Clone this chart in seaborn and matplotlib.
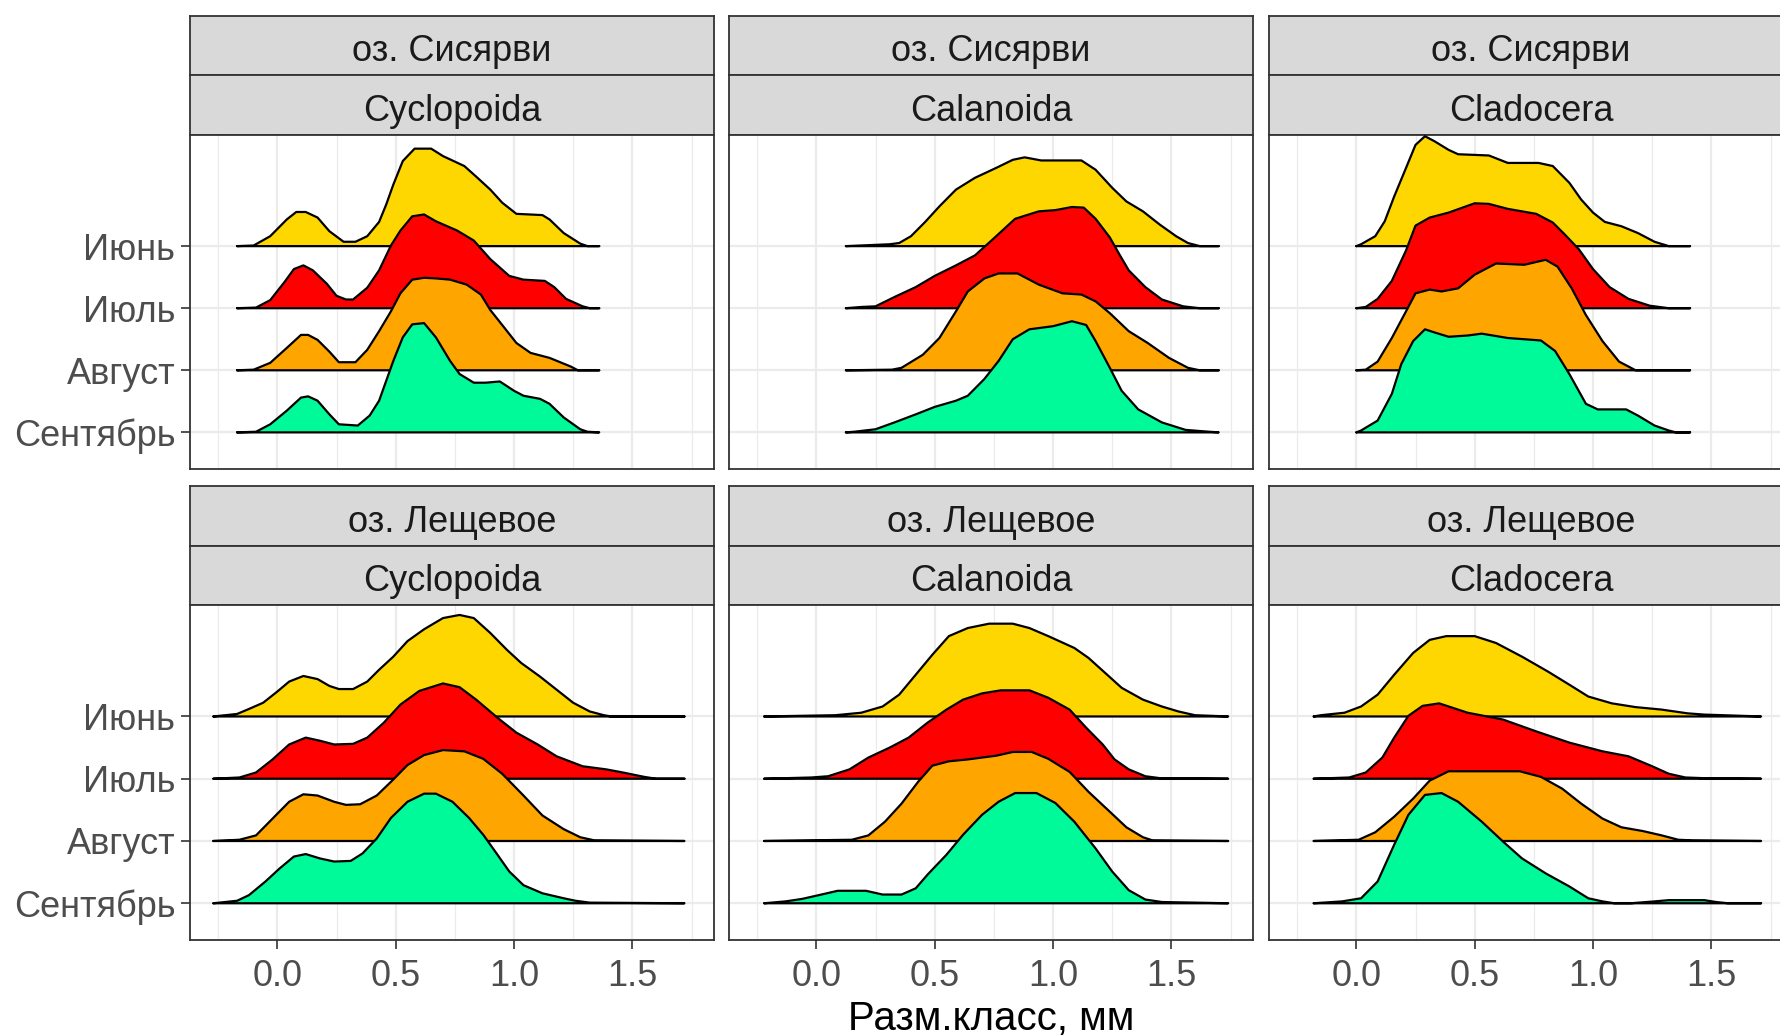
import matplotlib
matplotlib.use("Agg")
import matplotlib.pyplot as plt
import seaborn as sns
import pandas as pd

# ---------------- data ----------------
months = ["Июнь", "Июль", "Август", "Сентябрь"]
lakes = ["оз. Сисярви", "оз. Лещевое"]
groups = ["Cyclopoida", "Calanoida", "Cladocera"]
x_ticks = [0.0, 0.5, 1.0, 1.5]
x_tick_labels = ["0.0", "0.5", "1.0", "1.5"]
x_label = "Разм.класс, мм"

# x range of the density estimate per panel (lake, group)
sis_cyc_range = [-0.17, 1.36]
sis_cal_range = [0.125, 1.70]
sis_cla_range = [0.0, 1.41]
les_cyc_range = [-0.27, 1.72]
les_cal_range = [-0.22, 1.74]
les_cla_range = [-0.18, 1.71]

# оз. Сисярви, Cyclopoida
sis_cyc_jun_x = [-0.10, -0.03, 0.04, 0.08, 0.12, 0.17, 0.22, 0.28, 0.33, 0.38, 0.43, 0.46, 0.49, 0.53, 0.58, 0.65, 0.70, 0.79, 0.84, 0.90, 0.95, 1.01, 1.12, 1.15, 1.21, 1.28, 1.31]
sis_cyc_jun_h = [0.01, 0.16, 0.43, 0.55, 0.55, 0.46, 0.24, 0.07, 0.07, 0.16, 0.39, 0.67, 0.99, 1.37, 1.57, 1.57, 1.45, 1.29, 1.12, 0.91, 0.70, 0.52, 0.50, 0.43, 0.21, 0.04, 0.0]
sis_cyc_jul_x = [-0.09, -0.03, 0.03, 0.07, 0.11, 0.15, 0.21, 0.25, 0.29, 0.32, 0.38, 0.43, 0.48, 0.52, 0.57, 0.62, 0.67, 0.76, 0.83, 0.90, 0.98, 1.04, 1.13, 1.17, 1.22, 1.29, 1.32]
sis_cyc_jul_h = [0.01, 0.13, 0.42, 0.63, 0.69, 0.61, 0.39, 0.20, 0.14, 0.14, 0.33, 0.61, 1.01, 1.25, 1.48, 1.51, 1.40, 1.25, 1.09, 0.79, 0.52, 0.46, 0.44, 0.34, 0.15, 0.03, 0.0]
sis_cyc_aug_x = [-0.10, -0.03, 0.04, 0.10, 0.13, 0.17, 0.22, 0.26, 0.33, 0.38, 0.43, 0.48, 0.52, 0.57, 0.62, 0.67, 0.73, 0.80, 0.86, 0.90, 0.95, 1.01, 1.07, 1.15, 1.24, 1.27]
sis_cyc_aug_h = [0.01, 0.12, 0.36, 0.57, 0.57, 0.49, 0.30, 0.13, 0.13, 0.33, 0.63, 0.95, 1.24, 1.46, 1.49, 1.48, 1.46, 1.38, 1.22, 0.97, 0.73, 0.44, 0.28, 0.20, 0.06, 0.0]
sis_cyc_sep_x = [-0.09, -0.03, 0.04, 0.10, 0.13, 0.17, 0.22, 0.26, 0.34, 0.39, 0.43, 0.46, 0.49, 0.53, 0.57, 0.62, 0.67, 0.73, 0.77, 0.83, 0.88, 0.94, 1.00, 1.04, 1.11, 1.15, 1.21, 1.28, 1.31]
sis_cyc_sep_h = [0.01, 0.13, 0.35, 0.56, 0.58, 0.51, 0.29, 0.13, 0.11, 0.27, 0.51, 0.83, 1.15, 1.53, 1.74, 1.76, 1.53, 1.15, 0.94, 0.80, 0.80, 0.82, 0.67, 0.59, 0.54, 0.46, 0.24, 0.05, 0.01]

# оз. Сисярви, Calanoida
sis_cal_jun_x = [0.31, 0.35, 0.40, 0.46, 0.52, 0.59, 0.67, 0.76, 0.83, 0.88, 0.95, 1.12, 1.18, 1.25, 1.31, 1.38, 1.45, 1.52, 1.57, 1.62]
sis_cal_jun_h = [0.03, 0.05, 0.16, 0.39, 0.64, 0.91, 1.10, 1.26, 1.39, 1.43, 1.38, 1.38, 1.23, 0.94, 0.72, 0.56, 0.35, 0.16, 0.05, 0.0]
sis_cal_jul_x = [0.19, 0.25, 0.33, 0.42, 0.50, 0.59, 0.67, 0.74, 0.84, 0.94, 1.01, 1.08, 1.13, 1.18, 1.24, 1.28, 1.32, 1.39, 1.46, 1.55, 1.62]
sis_cal_jul_h = [0.02, 0.03, 0.18, 0.34, 0.52, 0.69, 0.85, 1.09, 1.44, 1.56, 1.58, 1.63, 1.62, 1.44, 1.14, 0.87, 0.61, 0.34, 0.14, 0.03, 0.0]
sis_cal_aug_x = [0.32, 0.36, 0.45, 0.52, 0.59, 0.64, 0.71, 0.77, 0.85, 0.94, 1.04, 1.12, 1.18, 1.24, 1.32, 1.40, 1.49, 1.57, 1.62]
sis_cal_aug_h = [0.01, 0.04, 0.25, 0.52, 0.95, 1.27, 1.48, 1.56, 1.56, 1.38, 1.24, 1.22, 1.11, 0.92, 0.63, 0.44, 0.20, 0.04, 0.0]
sis_cal_sep_x = [0.16, 0.25, 0.33, 0.42, 0.50, 0.59, 0.64, 0.71, 0.77, 0.83, 0.90, 1.00, 1.08, 1.14, 1.18, 1.24, 1.29, 1.36, 1.46, 1.56, 1.66]
sis_cal_sep_h = [0.01, 0.05, 0.16, 0.29, 0.41, 0.51, 0.59, 0.86, 1.15, 1.50, 1.66, 1.71, 1.79, 1.73, 1.47, 1.04, 0.67, 0.37, 0.16, 0.04, 0.01]

# оз. Сисярви, Cladocera
sis_cla_jun_x = [0.02, 0.08, 0.12, 0.16, 0.21, 0.25, 0.29, 0.33, 0.39, 0.43, 0.56, 0.64, 0.77, 0.83, 0.90, 0.95, 1.00, 1.05, 1.12, 1.19, 1.26, 1.32]
sis_cla_jun_h = [0.03, 0.16, 0.40, 0.80, 1.26, 1.63, 1.77, 1.69, 1.55, 1.48, 1.46, 1.34, 1.34, 1.29, 1.02, 0.75, 0.54, 0.39, 0.32, 0.21, 0.07, 0.0]
sis_cla_jul_x = [0.04, 0.09, 0.15, 0.21, 0.25, 0.31, 0.39, 0.50, 0.56, 0.64, 0.76, 0.83, 0.88, 0.94, 1.00, 1.07, 1.15, 1.24, 1.32]
sis_cla_jul_h = [0.02, 0.15, 0.44, 0.93, 1.33, 1.46, 1.54, 1.69, 1.68, 1.60, 1.52, 1.38, 1.19, 0.95, 0.63, 0.34, 0.15, 0.04, 0.0]
sis_cla_aug_x = [0.04, 0.09, 0.15, 0.21, 0.25, 0.31, 0.36, 0.43, 0.50, 0.59, 0.71, 0.80, 0.85, 0.91, 0.97, 1.04, 1.11, 1.18]
sis_cla_aug_h = [0.01, 0.14, 0.52, 0.95, 1.24, 1.30, 1.27, 1.32, 1.54, 1.72, 1.70, 1.78, 1.67, 1.32, 0.89, 0.47, 0.14, 0.0]
sis_cla_sep_x = [0.02, 0.09, 0.15, 0.19, 0.24, 0.29, 0.33, 0.39, 0.47, 0.53, 0.64, 0.78, 0.84, 0.90, 0.97, 1.02, 1.14, 1.19, 1.26, 1.32, 1.35]
sis_cla_sep_h = [0.03, 0.19, 0.62, 1.10, 1.47, 1.66, 1.61, 1.54, 1.56, 1.59, 1.52, 1.48, 1.31, 0.94, 0.46, 0.37, 0.37, 0.27, 0.11, 0.03, 0.0]

# оз. Лещевое, Cyclopoida
les_cyc_jun_x = [-0.17, -0.12, -0.06, 0.00, 0.05, 0.11, 0.17, 0.22, 0.26, 0.32, 0.38, 0.43, 0.49, 0.55, 0.62, 0.70, 0.77, 0.83, 0.90, 0.97, 1.03, 1.11, 1.18, 1.25, 1.32, 1.38, 1.41]
les_cyc_jun_h = [0.04, 0.12, 0.22, 0.40, 0.56, 0.65, 0.60, 0.49, 0.44, 0.44, 0.56, 0.75, 0.96, 1.21, 1.40, 1.58, 1.63, 1.58, 1.34, 1.07, 0.86, 0.64, 0.43, 0.22, 0.08, 0.02, 0.0]
les_cyc_jul_x = [-0.16, -0.09, -0.02, 0.05, 0.12, 0.18, 0.24, 0.32, 0.38, 0.45, 0.52, 0.60, 0.70, 0.77, 0.84, 0.93, 1.01, 1.10, 1.18, 1.29, 1.39, 1.46, 1.55, 1.60]
les_cyc_jul_h = [0.02, 0.10, 0.31, 0.55, 0.66, 0.61, 0.55, 0.56, 0.66, 0.90, 1.19, 1.41, 1.53, 1.47, 1.27, 0.98, 0.74, 0.55, 0.36, 0.20, 0.15, 0.10, 0.03, 0.0]
les_cyc_aug_x = [-0.16, -0.09, -0.02, 0.05, 0.11, 0.17, 0.24, 0.29, 0.35, 0.42, 0.48, 0.55, 0.62, 0.70, 0.79, 0.87, 0.95, 1.04, 1.12, 1.21, 1.28, 1.34]
les_cyc_aug_h = [0.02, 0.09, 0.36, 0.63, 0.75, 0.73, 0.63, 0.58, 0.59, 0.73, 0.95, 1.22, 1.38, 1.46, 1.44, 1.32, 1.08, 0.73, 0.41, 0.19, 0.06, 0.01]
les_cyc_sep_x = [-0.17, -0.12, -0.05, 0.01, 0.07, 0.12, 0.18, 0.24, 0.31, 0.36, 0.42, 0.48, 0.55, 0.62, 0.67, 0.74, 0.81, 0.87, 0.93, 0.98, 1.04, 1.12, 1.21, 1.26, 1.32]
les_cyc_sep_h = [0.04, 0.13, 0.35, 0.56, 0.75, 0.79, 0.72, 0.67, 0.68, 0.80, 1.04, 1.37, 1.63, 1.76, 1.76, 1.63, 1.37, 1.10, 0.78, 0.51, 0.29, 0.16, 0.08, 0.04, 0.01]

# оз. Лещевое, Calanoida
les_cal_jun_x = [0.08, 0.19, 0.28, 0.35, 0.42, 0.49, 0.56, 0.64, 0.73, 0.83, 0.90, 0.98, 1.09, 1.15, 1.22, 1.29, 1.38, 1.46, 1.53, 1.60]
les_cal_jun_h = [0.02, 0.06, 0.16, 0.35, 0.67, 0.99, 1.29, 1.42, 1.49, 1.49, 1.42, 1.29, 1.10, 0.94, 0.70, 0.46, 0.27, 0.16, 0.08, 0.02]
les_cal_jul_x = [-0.02, 0.05, 0.14, 0.22, 0.31, 0.39, 0.47, 0.55, 0.62, 0.70, 0.78, 0.90, 0.98, 1.07, 1.14, 1.21, 1.26, 1.32, 1.39, 1.45]
les_cal_jul_h = [0.02, 0.04, 0.15, 0.34, 0.50, 0.66, 0.90, 1.11, 1.27, 1.37, 1.42, 1.42, 1.30, 1.11, 0.82, 0.55, 0.31, 0.15, 0.04, 0.01]
les_cal_aug_x = [0.15, 0.22, 0.29, 0.36, 0.43, 0.49, 0.56, 0.64, 0.76, 0.83, 0.91, 0.98, 1.07, 1.15, 1.24, 1.31, 1.38, 1.42]
les_cal_aug_h = [0.02, 0.09, 0.31, 0.60, 0.95, 1.21, 1.28, 1.31, 1.37, 1.43, 1.43, 1.32, 1.11, 0.79, 0.47, 0.22, 0.06, 0.01]
les_cal_sep_x = [-0.13, -0.06, 0.01, 0.09, 0.21, 0.28, 0.36, 0.42, 0.47, 0.55, 0.62, 0.70, 0.77, 0.84, 0.93, 1.01, 1.09, 1.18, 1.25, 1.32, 1.39, 1.46]
les_cal_sep_h = [0.03, 0.07, 0.13, 0.20, 0.20, 0.14, 0.14, 0.24, 0.46, 0.78, 1.10, 1.42, 1.63, 1.77, 1.77, 1.61, 1.31, 0.88, 0.51, 0.21, 0.06, 0.02]

# оз. Лещевое, Cladocera
les_cla_jun_x = [-0.15, -0.05, 0.02, 0.09, 0.16, 0.24, 0.31, 0.38, 0.50, 0.59, 0.70, 0.81, 0.90, 0.98, 1.08, 1.18, 1.29, 1.40, 1.47, 1.63]
les_cla_jun_h = [0.02, 0.06, 0.16, 0.35, 0.67, 1.02, 1.23, 1.29, 1.29, 1.18, 0.96, 0.72, 0.51, 0.32, 0.21, 0.15, 0.11, 0.05, 0.03, 0.01]
les_cla_jul_x = [-0.03, 0.04, 0.11, 0.16, 0.22, 0.28, 0.35, 0.47, 0.62, 0.76, 0.90, 1.04, 1.15, 1.25, 1.32, 1.39, 1.46]
les_cla_jul_h = [0.02, 0.10, 0.34, 0.66, 1.01, 1.17, 1.21, 1.06, 0.95, 0.76, 0.58, 0.44, 0.36, 0.20, 0.08, 0.02, 0.01]
les_cla_aug_x = [0.01, 0.08, 0.16, 0.24, 0.31, 0.39, 0.50, 0.69, 0.78, 0.87, 0.95, 1.04, 1.12, 1.21, 1.29, 1.36, 1.42]
les_cla_aug_h = [0.02, 0.14, 0.39, 0.68, 0.97, 1.12, 1.12, 1.12, 1.03, 0.84, 0.60, 0.36, 0.22, 0.16, 0.09, 0.02, 0.01]
les_cla_sep_x = [-0.06, 0.02, 0.09, 0.16, 0.22, 0.29, 0.36, 0.43, 0.53, 0.62, 0.70, 0.80, 0.90, 0.98, 1.04, 1.09, 1.16, 1.26, 1.32, 1.47, 1.52, 1.57]
les_cla_sep_h = [0.03, 0.08, 0.35, 0.94, 1.42, 1.74, 1.77, 1.63, 1.31, 0.99, 0.72, 0.48, 0.27, 0.08, 0.03, 0.0, 0.0, 0.03, 0.05, 0.05, 0.02, 0.0]

# ---------------- assemble long table ----------------
panels = {
    (0, 0): (sis_cyc_range, [(sis_cyc_jun_x, sis_cyc_jun_h), (sis_cyc_jul_x, sis_cyc_jul_h), (sis_cyc_aug_x, sis_cyc_aug_h), (sis_cyc_sep_x, sis_cyc_sep_h)]),
    (0, 1): (sis_cal_range, [(sis_cal_jun_x, sis_cal_jun_h), (sis_cal_jul_x, sis_cal_jul_h), (sis_cal_aug_x, sis_cal_aug_h), (sis_cal_sep_x, sis_cal_sep_h)]),
    (0, 2): (sis_cla_range, [(sis_cla_jun_x, sis_cla_jun_h), (sis_cla_jul_x, sis_cla_jul_h), (sis_cla_aug_x, sis_cla_aug_h), (sis_cla_sep_x, sis_cla_sep_h)]),
    (1, 0): (les_cyc_range, [(les_cyc_jun_x, les_cyc_jun_h), (les_cyc_jul_x, les_cyc_jul_h), (les_cyc_aug_x, les_cyc_aug_h), (les_cyc_sep_x, les_cyc_sep_h)]),
    (1, 1): (les_cal_range, [(les_cal_jun_x, les_cal_jun_h), (les_cal_jul_x, les_cal_jul_h), (les_cal_aug_x, les_cal_aug_h), (les_cal_sep_x, les_cal_sep_h)]),
    (1, 2): (les_cla_range, [(les_cla_jun_x, les_cla_jun_h), (les_cla_jul_x, les_cla_jul_h), (les_cla_aug_x, les_cla_aug_h), (les_cla_sep_x, les_cla_sep_h)]),
}

rows = []
for (r, c), (rng, curves) in panels.items():
    for m, (xs, hs) in enumerate(curves):
        xx = [rng[0]] + list(xs) + [rng[1]]
        hh = [0.0] + list(hs) + [0.0]
        for k, (xv, hv) in enumerate(zip(xx, hh)):
            rows.append(dict(lake=lakes[r], group=groups[c], month=months[m],
                             order=k, x=xv, h=hv))
df = pd.DataFrame(rows)

# ---------------- styling ----------------
sns.set_theme(style="white")
plt.rcParams['font.family'] = ['Liberation Sans', 'DejaVu Sans']

fill_colors = ["#FFD700", "#FF0000", "#FFA500", "#00FA9A"]
W, H = 1781, 1036
fig = plt.figure(figsize=(W / 100, H / 100), dpi=100)
fig.patch.set_facecolor("white")

col_left = [190, 729, 1269]
pw = 524
row_geom = [  # strip1 top, strip2 top, panel top, panel bottom
    (16, 75, 135, 469),
    (486, 546, 605, 940),
]
border = "#333333"
tick_col = "#4D4D4D"
fs_tick = 26
fs_strip = 26

def add_ax(left, top, width, height):
    return fig.add_axes([left / W, 1 - (top + height) / H, width / W, height / H])

for r in range(2):
    s1, s2, pt, pb = row_geom[r]
    for c in range(3):
        l = col_left[c]
        # strips
        for (t0, t1, txt) in [(s1, s2, lakes[r]), (s2, pt, groups[c])]:
            sa = add_ax(l, t0, pw, t1 - t0)
            sa.set_facecolor("#D9D9D9")
            sa.set_xticks([]); sa.set_yticks([])
            for sp in sa.spines.values():
                sp.set_color(border); sp.set_linewidth(1.3); sp.set_visible(True)
            sa.text(0.5, 0.46, txt, ha="center", va="center_baseline", fontsize=fs_strip,
                    color="#1A1A1A", transform=sa.transAxes)
        # panel
        ax = add_ax(l, pt, pw, pb - pt)
        ax.set_facecolor("white")
        ax.set_xlim(-0.369, 1.845)
        ax.set_ylim(0.41, 5.79)
        ax.set_axisbelow(True)
        ax.set_xticks(x_ticks)
        ax.set_xticks([-0.25, 0.25, 0.75, 1.25, 1.75], minor=True)
        ax.set_yticks([1, 2, 3, 4])
        ax.grid(True, which="major", color="#EBEBEB", linewidth=1.6)
        ax.grid(True, which="minor", axis="x", color="#EBEBEB", linewidth=0.9)
        for sp in ax.spines.values():
            sp.set_color(border); sp.set_linewidth(1.3); sp.set_visible(True)

        sub = df[(df.lake == lakes[r]) & (df.group == groups[c])]
        for m, month in enumerate(months):
            base = 4 - m
            d = sub[sub.month == month].sort_values("order")
            z = 3 + m
            ax.fill_between(d.x.values, base, base + d.h.values,
                            color=fill_colors[m], linewidth=0, zorder=z)
            outline = pd.DataFrame({
                "x": list(d.x.values) + [d.x.values[-1], d.x.values[0]],
                "y": list(base + d.h.values) + [base, base],
            })
            n_before = len(ax.lines)
            sns.lineplot(data=outline, x="x", y="y", sort=False, estimator=None,
                         color="black", linewidth=1.6, ax=ax, legend=False)
            for ln in ax.lines[n_before:]:
                ln.set_zorder(z + 0.5)
                ln.set_solid_joinstyle("round")
        ax.set_xlabel(""); ax.set_ylabel("")

        ax.tick_params(axis="both", which="minor", length=0)
        if c == 0:
            ax.set_yticklabels(months[::-1])
            ax.tick_params(axis="y", which="major", left=True, length=6.5, width=1.2,
                           color=border, labelsize=fs_tick, labelcolor=tick_col, pad=4)
        else:
            ax.tick_params(axis="y", which="major", left=False, labelleft=False)
        if r == 1:
            ax.set_xticklabels(x_tick_labels)
            ax.tick_params(axis="x", which="major", bottom=True, length=6.5, width=1.2,
                           color=border, labelsize=fs_tick, labelcolor=tick_col, pad=7)
        else:
            ax.tick_params(axis="x", which="major", bottom=False, labelbottom=False)

fig.text(991 / W, 1 - 1019 / H, x_label, ha="center", va="center",
         fontsize=29, color="black")

fig.savefig("out.png", dpi=100, facecolor="white")
